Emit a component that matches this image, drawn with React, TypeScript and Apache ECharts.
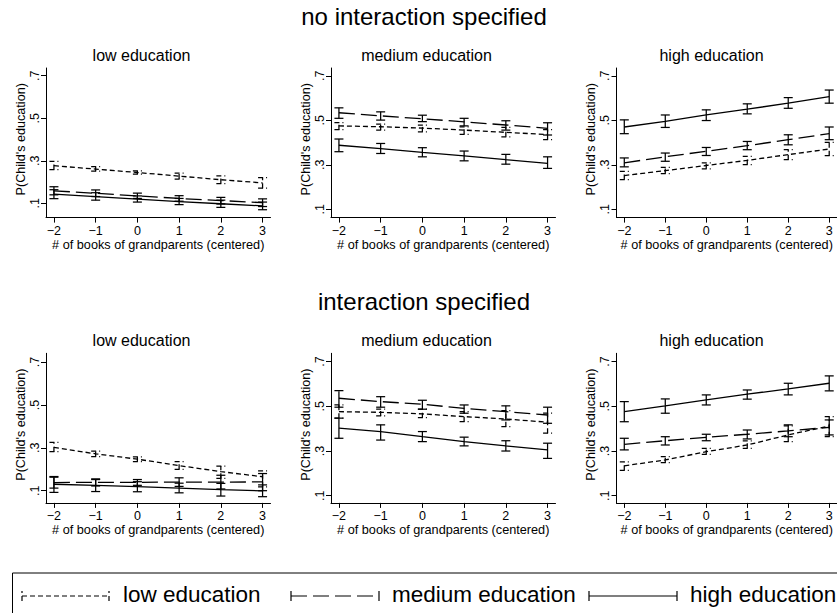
import React, { useEffect, useRef } from "react";
import * as echarts from "echarts";

// x values: # of books of grandparents (centered)
const X_VALUES = [-2, -1, 0, 1, 2, 3];
const X_TICKS = [-2, -1, 0, 1, 2, 3];
const Y_TICKS = [0.1, 0.3, 0.5, 0.7];

const MAIN_TITLES = ["no interaction specified", "interaction specified"];
const PANEL_TITLES = ["low education", "medium education", "high education"];
const SERIES_NAMES = ["low education", "medium education", "high education"];
const X_TITLE = "# of books of grandparents (centered)";
const Y_TITLE = "P(Child's education)";

// ---------- no interaction specified ----------
// panel: low education
const nLow_lowEst = [0.277, 0.261, 0.245, 0.228, 0.211, 0.196];
const nLow_lowLo = [0.259, 0.251, 0.237, 0.214, 0.193, 0.171];
const nLow_lowHi = [0.297, 0.272, 0.253, 0.242, 0.229, 0.221];
const nLow_medEst = [0.159, 0.147, 0.135, 0.123, 0.113, 0.103];
const nLow_medLo = [0.140, 0.132, 0.123, 0.110, 0.097, 0.085];
const nLow_medHi = [0.178, 0.163, 0.148, 0.136, 0.128, 0.121];
const nLow_highEst = [0.143, 0.132, 0.120, 0.108, 0.098, 0.088];
const nLow_highLo = [0.122, 0.115, 0.106, 0.094, 0.081, 0.070];
const nLow_highHi = [0.164, 0.150, 0.135, 0.123, 0.115, 0.106];
// panel: medium education
const nMed_lowEst = [0.475, 0.471, 0.465, 0.456, 0.446, 0.436];
const nMed_lowLo = [0.458, 0.456, 0.448, 0.437, 0.426, 0.413];
const nMed_lowHi = [0.490, 0.483, 0.478, 0.471, 0.468, 0.458];
const nMed_medEst = [0.534, 0.520, 0.507, 0.493, 0.479, 0.464];
const nMed_medLo = [0.509, 0.501, 0.494, 0.475, 0.456, 0.434];
const nMed_medHi = [0.556, 0.538, 0.523, 0.509, 0.498, 0.489];
const nMed_highEst = [0.388, 0.373, 0.356, 0.340, 0.323, 0.307];
const nMed_highLo = [0.359, 0.351, 0.336, 0.318, 0.303, 0.284];
const nMed_highHi = [0.416, 0.396, 0.377, 0.362, 0.347, 0.336];
// panel: high education
const nHigh_lowEst = [0.252, 0.274, 0.297, 0.320, 0.346, 0.371];
const nHigh_lowLo = [0.234, 0.261, 0.282, 0.301, 0.323, 0.341];
const nHigh_lowHi = [0.271, 0.289, 0.309, 0.338, 0.368, 0.401];
const nHigh_medEst = [0.309, 0.336, 0.361, 0.386, 0.413, 0.440];
const nHigh_medLo = [0.291, 0.316, 0.342, 0.368, 0.390, 0.413];
const nHigh_medHi = [0.331, 0.353, 0.378, 0.405, 0.435, 0.470];
const nHigh_highEst = [0.470, 0.495, 0.524, 0.550, 0.577, 0.606];
const nHigh_highLo = [0.440, 0.468, 0.499, 0.529, 0.554, 0.577];
const nHigh_highHi = [0.502, 0.524, 0.547, 0.574, 0.602, 0.636];

// ---------- interaction specified ----------
// panel: low education
const iLow_lowEst = [0.302, 0.272, 0.247, 0.217, 0.189, 0.165];
const iLow_lowLo = [0.282, 0.259, 0.236, 0.200, 0.158, 0.118];
const iLow_lowHi = [0.325, 0.285, 0.258, 0.236, 0.215, 0.193];
const iLow_medEst = [0.138, 0.139, 0.139, 0.140, 0.140, 0.141];
const iLow_medLo = [0.112, 0.122, 0.125, 0.120, 0.108, 0.100];
const iLow_medHi = [0.163, 0.155, 0.152, 0.160, 0.172, 0.180];
const iLow_highEst = [0.130, 0.125, 0.119, 0.112, 0.105, 0.099];
const iLow_highLo = [0.092, 0.096, 0.095, 0.090, 0.075, 0.072];
const iLow_highHi = [0.166, 0.152, 0.142, 0.135, 0.134, 0.127];
// panel: medium education
const iMed_lowEst = [0.476, 0.473, 0.466, 0.454, 0.443, 0.429];
const iMed_lowLo = [0.447, 0.457, 0.449, 0.431, 0.409, 0.380];
const iMed_lowHi = [0.506, 0.487, 0.487, 0.476, 0.481, 0.469];
const iMed_medEst = [0.536, 0.521, 0.509, 0.491, 0.476, 0.461];
const iMed_medLo = [0.496, 0.496, 0.487, 0.469, 0.439, 0.424];
const iMed_medHi = [0.570, 0.543, 0.527, 0.506, 0.502, 0.496];
const iMed_highEst = [0.402, 0.387, 0.364, 0.342, 0.323, 0.305];
const iMed_highLo = [0.357, 0.349, 0.342, 0.323, 0.300, 0.267];
const iMed_highHi = [0.447, 0.417, 0.387, 0.362, 0.346, 0.335];
// panel: high education
const iHigh_lowEst = [0.234, 0.260, 0.297, 0.327, 0.372, 0.412];
const iHigh_lowLo = [0.214, 0.248, 0.285, 0.312, 0.342, 0.364];
const iHigh_lowHi = [0.252, 0.275, 0.312, 0.345, 0.412, 0.454];
const iHigh_medEst = [0.330, 0.346, 0.361, 0.375, 0.390, 0.406];
const iHigh_medLo = [0.305, 0.327, 0.346, 0.354, 0.364, 0.372];
const iHigh_medHi = [0.357, 0.364, 0.375, 0.394, 0.417, 0.439];
const iHigh_highEst = [0.476, 0.502, 0.529, 0.554, 0.578, 0.603];
const iHigh_highLo = [0.431, 0.469, 0.506, 0.532, 0.551, 0.569];
const iHigh_highHi = [0.521, 0.533, 0.551, 0.573, 0.603, 0.636];

const FONT = "'Liberation Sans', Arial, Helvetica, sans-serif";
const DASHES: (number[] | null)[] = [[5, 3], [16, 6], null];

type Line = { est: number[]; lo: number[]; hi: number[] };
const PANELS: { row: number; col: number; yMin: number; yMax: number; lines: Line[] }[] = [
  { row: 0, col: 0, yMin: 0.033, yMax: 0.736, lines: [
    { est: nLow_lowEst, lo: nLow_lowLo, hi: nLow_lowHi },
    { est: nLow_medEst, lo: nLow_medLo, hi: nLow_medHi },
    { est: nLow_highEst, lo: nLow_highLo, hi: nLow_highHi }] },
  { row: 0, col: 1, yMin: 0.063, yMax: 0.735, lines: [
    { est: nMed_lowEst, lo: nMed_lowLo, hi: nMed_lowHi },
    { est: nMed_medEst, lo: nMed_medLo, hi: nMed_medHi },
    { est: nMed_highEst, lo: nMed_highLo, hi: nMed_highHi }] },
  { row: 0, col: 2, yMin: 0.063, yMax: 0.735, lines: [
    { est: nHigh_lowEst, lo: nHigh_lowLo, hi: nHigh_lowHi },
    { est: nHigh_medEst, lo: nHigh_medLo, hi: nHigh_medHi },
    { est: nHigh_highEst, lo: nHigh_highLo, hi: nHigh_highHi }] },
  { row: 1, col: 0, yMin: 0.043, yMax: 0.741, lines: [
    { est: iLow_lowEst, lo: iLow_lowLo, hi: iLow_lowHi },
    { est: iLow_medEst, lo: iLow_medLo, hi: iLow_medHi },
    { est: iLow_highEst, lo: iLow_highLo, hi: iLow_highHi }] },
  { row: 1, col: 1, yMin: 0.068, yMax: 0.737, lines: [
    { est: iMed_lowEst, lo: iMed_lowLo, hi: iMed_lowHi },
    { est: iMed_medEst, lo: iMed_medLo, hi: iMed_medHi },
    { est: iMed_highEst, lo: iMed_highLo, hi: iMed_highHi }] },
  { row: 1, col: 2, yMin: 0.068, yMax: 0.737, lines: [
    { est: iHigh_lowEst, lo: iHigh_lowLo, hi: iHigh_lowHi },
    { est: iHigh_medEst, lo: iHigh_medLo, hi: iHigh_medHi },
    { est: iHigh_highEst, lo: iHigh_highLo, hi: iHigh_highHi }] },
];

const GRID_LEFT = [46, 331, 616.5];
const GRID_TOP = [68, 353.3];
const GRID_W = 224.5;
const GRID_H = 149.6;
const ROW_SHIFT = 285.3;
const PANEL_CENTER = [141.5, 426.5, 711.5];

function buildOption() {
  const grid: any[] = [];
  const xAxis: any[] = [];
  const yAxis: any[] = [];
  const series: any[] = [];
  const graphic: any[] = [];
  const axisLineStyle = { color: "#000", width: 1 };
  PANELS.forEach((p, i) => {
    grid.push({ left: GRID_LEFT[p.col], top: GRID_TOP[p.row], width: GRID_W, height: GRID_H, containLabel: false });
    xAxis.push({
      gridIndex: i, type: "value", min: -2.19, max: 3.19,
      axisLine: { show: true, onZero: false, lineStyle: axisLineStyle },
      axisTick: { show: true, length: 5, customValues: X_TICKS, lineStyle: axisLineStyle },
      axisLabel: { customValues: X_TICKS, margin: 7, color: "#000", fontFamily: FONT, fontSize: 12.5,
        formatter: (v: number) => (v < 0 ? "\u2212" + Math.abs(v) : String(v)) },
      splitLine: { show: false },
      name: X_TITLE, nameLocation: "middle", nameGap: 20,
      nameTextStyle: { color: "#000", fontFamily: FONT, fontSize: 12.7 },
    });
    yAxis.push({
      gridIndex: i, type: "value", min: p.yMin, max: p.yMax,
      axisLine: { show: true, onZero: false, lineStyle: axisLineStyle },
      axisTick: { show: true, length: 5, customValues: Y_TICKS, lineStyle: axisLineStyle },
      axisLabel: { customValues: Y_TICKS, rotate: 90, margin: 5, color: "#000", fontFamily: FONT, fontSize: 12.5,
        formatter: (v: number) => "." + Math.round(v * 10) },
      splitLine: { show: false },
      name: Y_TITLE, nameLocation: "middle", nameGap: 19,
      nameTextStyle: { color: "#000", fontFamily: FONT, fontSize: 12.6, padding: [0, 0, 0, 7] },
    });
    p.lines.forEach((ln, k) => {
      const dash = DASHES[k];
      series.push({
        type: "line", name: SERIES_NAMES[k], xAxisIndex: i, yAxisIndex: i,
        data: X_VALUES.map((x, j) => [x, ln.est[j]]),
        symbol: "none", silent: true,
        lineStyle: { color: "#000", width: 1.3, type: dash ? dash : "solid" },
      });
      series.push({
        type: "custom", name: SERIES_NAMES[k] + " CI", xAxisIndex: i, yAxisIndex: i,
        data: X_VALUES.map((x, j) => [x, ln.lo[j], ln.hi[j]]),
        encode: { x: 0, y: [1, 2] }, silent: true,
        renderItem: (params: any, api: any) => {
          const x = api.value(0);
          const a = api.coord([x, api.value(1)]);
          const b = api.coord([x, api.value(2)]);
          const w = 4.5;
          const style: any = { stroke: "#000", lineWidth: 1.25, fill: null };
          if (dash) style.lineDash = dash;
          return {
            type: "group",
            children: [
              { type: "line", shape: { x1: a[0] - w, y1: a[1], x2: a[0] + w, y2: a[1] }, style },
              { type: "line", shape: { x1: a[0], y1: a[1], x2: b[0], y2: b[1] }, style },
              { type: "line", shape: { x1: b[0] - w, y1: b[1], x2: b[0] + w, y2: b[1] }, style },
            ],
          };
        },
      });
    });
  });

  // titles
  MAIN_TITLES.forEach((t, r) => {
    graphic.push({ type: "text", x: 424, y: 16 + r * ROW_SHIFT, silent: true,
      style: { text: t, fontFamily: FONT, fontSize: 24, fill: "#000", textAlign: "center", textVerticalAlign: "middle" } });
    PANEL_TITLES.forEach((pt, c) => {
      graphic.push({ type: "text", x: PANEL_CENTER[c], y: 55.3 + r * ROW_SHIFT, silent: true,
        style: { text: pt, fontFamily: FONT, fontSize: 16, fill: "#000", textAlign: "center", textVerticalAlign: "middle" } });
    });
  });

  // legend
  const ly = 596;
  graphic.push({ type: "rect", shape: { x: 12.5, y: 573, width: 900, height: 100 }, silent: true,
    style: { fill: null, stroke: "#000", lineWidth: 1 } });
  const keyX = [[22, 109], [291, 379], [589, 677]];
  const textX = [123, 392, 690];
  SERIES_NAMES.forEach((nm, k) => {
    const dash = DASHES[k];
    const st: any = { stroke: "#000", lineWidth: 1.2 };
    if (dash) st.lineDash = dash;
    const [x1, x2] = keyX[k];
    graphic.push({ type: "line", silent: true, shape: { x1, y1: ly, x2, y2: ly }, style: st });
    graphic.push({ type: "line", silent: true, shape: { x1, y1: ly + 5, x2: x1, y2: ly - 5 }, style: st });
    graphic.push({ type: "line", silent: true, shape: { x1: x2, y1: ly + 5, x2, y2: ly - 5 }, style: st });
    graphic.push({ type: "text", x: textX[k], y: 594.5, silent: true,
      style: { text: nm, fontFamily: FONT, fontSize: 22.5, fill: "#000", textAlign: "left", textVerticalAlign: "middle" } });
  });

  return { animation: false, backgroundColor: "#fff", grid, xAxis, yAxis, series, graphic };
}

export default function App() {
  const ref = useRef<HTMLDivElement>(null);
  useEffect(() => {
    if (!ref.current) return;
    const chart = echarts.init(ref.current, undefined, { renderer: "svg" });
    chart.setOption(buildOption() as any);
    return () => chart.dispose();
  }, []);
  return (
    <div
      ref={ref}
      style={{ position: "absolute", left: 0, top: 0, width: 837, height: 613, background: "#fff" }}
    />
  );
}
